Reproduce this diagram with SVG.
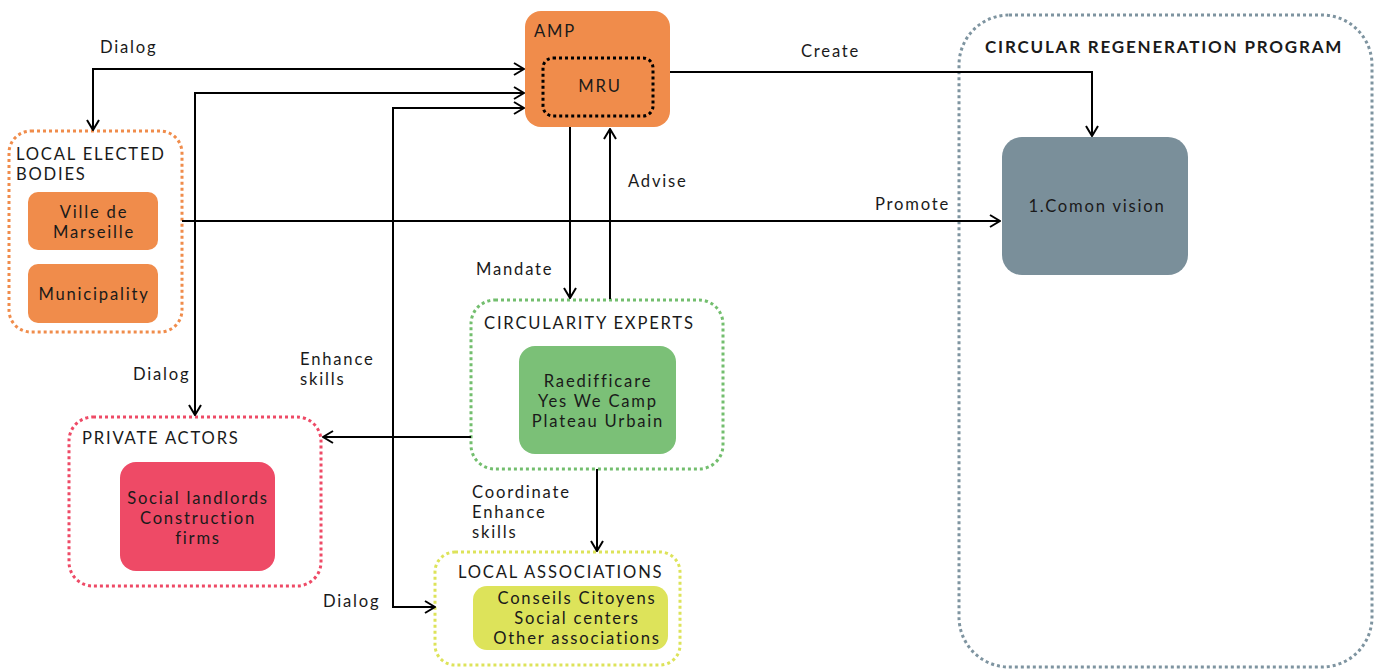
<svg xmlns="http://www.w3.org/2000/svg" width="1383" height="670" viewBox="0 0 1383 670">
  <style>
    text { font-family: Lato, "Noto Sans", "Liberation Sans", sans-serif; fill: #1a1a1a; font-size: 16.6px; letter-spacing: 1.8px; }
    .mid { text-anchor: middle; }
    .bold { font-size: 17px; font-weight: 700; letter-spacing: 1.8px; }
    .edge { fill: none; stroke: #000; stroke-width: 2; }
    .dot { fill: none; stroke-width: 3; stroke-dasharray: 3 3; }
  </style>
  <defs>
    <marker id="arrow" viewBox="0 0 12 14" refX="11" refY="7" markerWidth="12" markerHeight="14" markerUnits="userSpaceOnUse" orient="auto-start-reverse">
      <path d="M1,1 L11,7 L1,13" fill="none" stroke="#000" stroke-width="2"/>
    </marker>
  </defs>

  <!-- program frame -->
  <g id="program">
    <rect class="dot" x="959" y="15" width="413" height="652" rx="50" stroke="#7E94A0"/>
    <text class="bold" x="985" y="53">CIRCULAR REGENERATION PROGRAM</text>
  </g>

  <g id="vision">
    <rect x="1002" y="137" width="186" height="138" rx="20" fill="#7A8F9A"/>
    <text class="mid" x="1097" y="212">1.Comon vision</text>
  </g>

  <g id="amp">
    <rect x="525" y="11" width="145" height="116" rx="16" fill="#F08C4B"/>
    <text x="534" y="37">AMP</text>
    <rect x="543" y="58" width="110" height="58" rx="10" fill="none" stroke="#000" stroke-width="3" stroke-dasharray="3 3"/>
    <text class="mid" x="600" y="92">MRU</text>
  </g>

  <g id="local-elected">
    <rect class="dot" x="9" y="131" width="173" height="201" rx="22" stroke="#F08C4B"/>
    <text x="16" y="160">LOCAL ELECTED</text>
    <text x="16" y="180">BODIES</text>
    <rect x="28" y="192" width="130" height="58" rx="10" fill="#F08C4B"/>
    <text class="mid" x="94" y="218">Ville de</text>
    <text class="mid" x="94" y="238">Marseille</text>
    <rect x="28" y="264" width="130" height="59" rx="10" fill="#F08C4B"/>
    <text class="mid" x="94" y="300">Municipality</text>
  </g>

  <g id="experts">
    <rect class="dot" x="471" y="300" width="252" height="169" rx="24" stroke="#73BE6E"/>
    <text x="484" y="329">CIRCULARITY EXPERTS</text>
    <rect x="519" y="346" width="157" height="108" rx="16" fill="#7BC077"/>
    <text class="mid" x="598" y="387">Raedifficare</text>
    <text class="mid" x="598" y="407">Yes We Camp</text>
    <text class="mid" x="598" y="427">Plateau Urbain</text>
  </g>

  <g id="private">
    <rect class="dot" x="69" y="417" width="252" height="169" rx="24" stroke="#EE4A66"/>
    <text x="82" y="444">PRIVATE ACTORS</text>
    <rect x="120" y="462" width="155" height="109" rx="16" fill="#EE4A66"/>
    <text class="mid" x="198" y="504">Social landlords</text>
    <text class="mid" x="198" y="524">Construction</text>
    <text class="mid" x="198" y="544">firms</text>
  </g>

  <g id="associations">
    <rect class="dot" x="435" y="552" width="245" height="113" rx="20" stroke="#DDE35A"/>
    <text x="458" y="578">LOCAL ASSOCIATIONS</text>
    <rect x="473" y="586" width="195" height="64" rx="14" fill="#DDE35A"/>
    <text class="mid" x="577" y="604">Conseils Citoyens</text>
    <text class="mid" x="577" y="624">Social centers</text>
    <text class="mid" x="577" y="644">Other associations</text>
  </g>

  <g id="connectors">
    <!-- AMP <-> local elected bodies -->
    <path class="edge" d="M93,130 V69 H524" marker-start="url(#arrow)" marker-end="url(#arrow)"/>
    <!-- AMP <-> private actors -->
    <path class="edge" d="M195,415 V93 H524" marker-start="url(#arrow)" marker-end="url(#arrow)"/>
    <!-- AMP <-> local associations -->
    <path class="edge" d="M524,108 H393 V607 H435" marker-start="url(#arrow)" marker-end="url(#arrow)"/>
    <!-- AMP -> common vision -->
    <path class="edge" d="M670,72 H1092 V136" marker-end="url(#arrow)"/>
    <!-- local elected -> common vision -->
    <path class="edge" d="M182,221 H1000" marker-end="url(#arrow)"/>
    <!-- mandate / advise -->
    <path class="edge" d="M570,127 V298" marker-end="url(#arrow)"/>
    <path class="edge" d="M610,299 V129" marker-end="url(#arrow)"/>
    <!-- experts -> private actors -->
    <path class="edge" d="M471,437 H323" marker-end="url(#arrow)"/>
    <!-- experts -> associations -->
    <path class="edge" d="M597,469 V551" marker-end="url(#arrow)"/>
  </g>

  <g id="labels">
    <text x="100" y="53">Dialog</text>
    <text x="801" y="57">Create</text>
    <text x="628" y="187">Advise</text>
    <text x="875" y="210">Promote</text>
    <text x="476" y="275">Mandate</text>
    <text x="133" y="380">Dialog</text>
    <text x="300" y="365">Enhance</text>
    <text x="300" y="385">skills</text>
    <text x="472" y="498">Coordinate</text>
    <text x="472" y="518">Enhance</text>
    <text x="472" y="538">skills</text>
    <text x="323" y="607">Dialog</text>
  </g>
</svg>
